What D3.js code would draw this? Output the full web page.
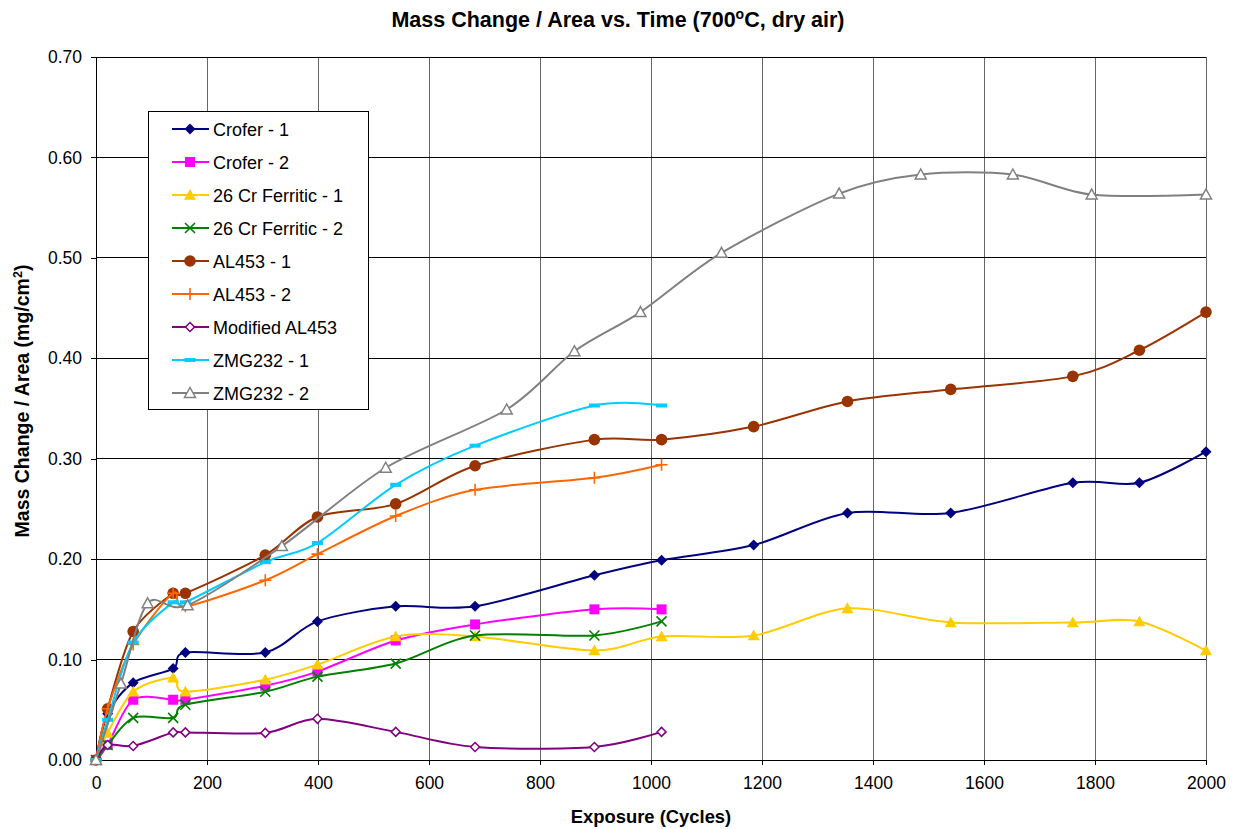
<!DOCTYPE html>
<html>
<head>
<meta charset="utf-8">
<script src="https://cdn.jsdelivr.net/npm/d3@7"></script>
<style>
  html, body { margin: 0; padding: 0; background: #fff; }
  svg { display: block; font-family: "Liberation Sans", Arial, sans-serif; }
</style>
</head>
<body>
<svg id="chart" width="1236" height="829"></svg>
<script>
// ---- Data ----
const xShort = [0, 21, 67, 139, 161, 305, 399, 540, 683, 898, 1019];
const xLong  = [0, 21, 67, 139, 161, 305, 399, 540, 683, 898, 1019, 1185, 1354, 1540, 1760, 1880, 2000];
const xZmg2  = [0, 45, 93, 165, 335, 522, 740, 862, 981, 1127, 1339, 1486, 1652, 1794, 2000];

const crofer1   = [0, 0.046, 0.077, 0.091, 0.107, 0.107, 0.138, 0.153, 0.153, 0.184, 0.199, 0.214, 0.246, 0.246, 0.276, 0.276, 0.307];
const crofer2   = [0, 0.015, 0.060, 0.060, 0.060, 0.074, 0.088, 0.119, 0.135, 0.150, 0.150];
const cr26_1    = [0, 0.027, 0.068, 0.082, 0.068, 0.080, 0.095, 0.123, 0.123, 0.109, 0.123, 0.124, 0.151, 0.137, 0.137, 0.138, 0.109];
const cr26_2    = [0, 0.015, 0.042, 0.042, 0.055, 0.068, 0.083, 0.096, 0.124, 0.124, 0.138];
const al453_1   = [0, 0.051, 0.128, 0.166, 0.166, 0.204, 0.242, 0.255, 0.293, 0.319, 0.319, 0.332, 0.357, 0.369, 0.382, 0.408, 0.446];
const al453_2   = [0, 0.051, 0.115, 0.166, 0.153, 0.179, 0.205, 0.243, 0.269, 0.281, 0.294];
const modAl453  = [0, 0.015, 0.014, 0.0275, 0.0275, 0.027, 0.041, 0.028, 0.013, 0.013, 0.028];
const zmg232_1  = [0, 0.040, 0.117, 0.157, 0.157, 0.197, 0.216, 0.274, 0.313, 0.353, 0.353];
const zmg232_2  = [0, 0.076, 0.156, 0.154, 0.213, 0.291, 0.349, 0.407, 0.446, 0.505, 0.564, 0.583, 0.583, 0.563, 0.563];

const seriesNames = ["Crofer - 1", "Crofer - 2", "26 Cr Ferritic - 1", "26 Cr Ferritic - 2",
                     "AL453 - 1", "AL453 - 2", "Modified AL453", "ZMG232 - 1", "ZMG232 - 2"];
const xTicks = [0, 200, 400, 600, 800, 1000, 1200, 1400, 1600, 1800, 2000];
const yTicks = [0, 0.1, 0.2, 0.3, 0.4, 0.5, 0.6, 0.7];

const series = [
  { name: seriesNames[0], xs: xLong,  ys: crofer1,  color: "#000080", marker: "diamond" },
  { name: seriesNames[1], xs: xShort, ys: crofer2,  color: "#FF00FF", marker: "square" },
  { name: seriesNames[2], xs: xLong,  ys: cr26_1,   color: "#FFCC00", marker: "triangle" },
  { name: seriesNames[3], xs: xShort, ys: cr26_2,   color: "#008000", marker: "x" },
  { name: seriesNames[4], xs: xLong,  ys: al453_1,  color: "#993300", marker: "circle" },
  { name: seriesNames[5], xs: xShort, ys: al453_2,  color: "#FF6600", marker: "plus" },
  { name: seriesNames[6], xs: xShort, ys: modAl453, color: "#800080", marker: "hdiamond" },
  { name: seriesNames[7], xs: xShort, ys: zmg232_1, color: "#00CCFF", marker: "dash" },
  { name: seriesNames[8], xs: xZmg2,  ys: zmg232_2, color: "#808080", marker: "htriangle" }
];

// ---- Layout ----
const svg = d3.select("#chart");
const L = 96, R = 1206, T = 57, B = 760;
const x = d3.scaleLinear().domain([0, 2000]).range([L, R]);
const y = d3.scaleLinear().domain([0, 0.7]).range([B, T]);

// gridlines
svg.append("g").selectAll("line").data(xTicks.slice(1)).join("line")
  .attr("x1", d => x(d)).attr("x2", d => x(d)).attr("y1", T).attr("y2", B)
  .attr("stroke", "#666").attr("stroke-width", 1).attr("shape-rendering", "crispEdges");
svg.append("g").selectAll("line").data(yTicks.slice(1)).join("line")
  .attr("x1", L).attr("x2", R).attr("y1", d => y(d)).attr("y2", d => y(d))
  .attr("stroke", "#000").attr("stroke-width", 1).attr("shape-rendering", "crispEdges");

// axes
const xAxis = d3.axisBottom(x).tickValues(xTicks).tickSize(5).tickSizeOuter(0).tickPadding(12)
  .tickFormat(d3.format("d"));
const gx = svg.append("g").attr("transform", `translate(0,${B})`).call(xAxis);
const yAxis = d3.axisLeft(y).tickValues(yTicks).tickSize(5).tickSizeOuter(0).tickPadding(9)
  .tickFormat(d3.format(".2f"));
const gy = svg.append("g").attr("transform", `translate(${L},0)`).call(yAxis);
[gx, gy].forEach(g => {
  g.selectAll("path.domain").attr("stroke", "#000").attr("stroke-width", 1.3).attr("shape-rendering", "crispEdges");
  g.selectAll(".tick line").attr("stroke", "#000").attr("shape-rendering", "crispEdges");
  g.selectAll(".tick text").attr("fill", "#000").style("font-size", "17.5px")
    .style("font-family", "'Liberation Sans', Arial, sans-serif");
});

// ---- Markers ----
function drawMarker(g, type, color, cx, cy, scale) {
  const s = scale || 1;
  switch (type) {
    case "diamond": {
      const r = 5.5 * s;
      g.append("path").attr("d", `M${cx},${cy - r}L${cx + r},${cy}L${cx},${cy + r}L${cx - r},${cy}Z`).attr("fill", color);
      break; }
    case "square": {
      const r = 5 * s;
      g.append("rect").attr("x", cx - r).attr("y", cy - r).attr("width", 2 * r).attr("height", 2 * r).attr("fill", color);
      break; }
    case "triangle": {
      const r = 6 * s;
      g.append("path").attr("d", `M${cx},${cy - r}L${cx + r},${cy + r * 0.8}L${cx - r},${cy + r * 0.8}Z`).attr("fill", color);
      break; }
    case "x": {
      const r = 5 * s;
      g.append("path").attr("d", `M${cx - r},${cy - r}L${cx + r},${cy + r}M${cx - r},${cy + r}L${cx + r},${cy - r}`)
        .attr("stroke", color).attr("stroke-width", 1.6).attr("fill", "none");
      break; }
    case "circle":
      g.append("circle").attr("cx", cx).attr("cy", cy).attr("r", 5.8 * s).attr("fill", color);
      break;
    case "plus": {
      const r = 6 * s;
      g.append("path").attr("d", `M${cx - r},${cy}L${cx + r},${cy}M${cx},${cy - r}L${cx},${cy + r}`)
        .attr("stroke", color).attr("stroke-width", 1.6).attr("fill", "none");
      break; }
    case "hdiamond": {
      const r = 4.5 * s;
      g.append("path").attr("d", `M${cx},${cy - r}L${cx + r},${cy}L${cx},${cy + r}L${cx - r},${cy}Z`)
        .attr("fill", "#fff").attr("stroke", color).attr("stroke-width", 1.5);
      break; }
    case "dash":
      g.append("rect").attr("x", cx - 5.5 * s).attr("y", cy - 2).attr("width", 11 * s).attr("height", 4).attr("fill", color);
      break;
    case "htriangle": {
      const r = 5.5 * s;
      g.append("path").attr("d", `M${cx},${cy - r}L${cx + r},${cy + r * 0.8}L${cx - r},${cy + r * 0.8}Z`)
        .attr("fill", "#fff").attr("stroke", color).attr("stroke-width", 1.5);
      break; }
  }
}

// ---- Lines ----
const line = d3.line().x(d => x(d[0])).y(d => y(d[1])).curve(d3.curveCardinal.tension(0.1));
series.forEach(s => {
  const pts = s.xs.map((v, i) => [v, s.ys[i]]);
  const g = svg.append("g");
  g.append("path").datum(pts).attr("d", line).attr("fill", "none")
    .attr("stroke", s.color).attr("stroke-width", 2);
  pts.forEach(p => drawMarker(g, s.marker, s.color, x(p[0]), y(p[1])));
});

// ---- Legend ----
const lg = svg.append("g");
lg.append("rect").attr("x", 148.5).attr("y", 111.5).attr("width", 220).attr("height", 298)
  .attr("fill", "#fff").attr("stroke", "#000").attr("stroke-width", 1);
series.forEach((s, i) => {
  const cy = 129 + i * 33;
  lg.append("line").attr("x1", 172).attr("x2", 209).attr("y1", cy).attr("y2", cy)
    .attr("stroke", s.color).attr("stroke-width", 2);
  drawMarker(lg, s.marker, s.color, 190, cy);
  lg.append("text").attr("x", 213).attr("y", cy + 6.5).text(s.name)
    .style("font-size", "18px").attr("fill", "#000");
});

// ---- Titles ----
const title = svg.append("text").attr("x", 618).attr("y", 27).attr("text-anchor", "middle")
  .style("font-size", "21.5px").style("font-weight", "bold");
title.append("tspan").text("Mass Change / Area vs. Time (700");
title.append("tspan").attr("dy", -8).style("font-size", "14px").text("o");
title.append("tspan").attr("dy", 8).text("C, dry air)");

svg.append("text").attr("x", 651).attr("y", 823).attr("text-anchor", "middle")
  .style("font-size", "18.4px").style("font-weight", "bold").text("Exposure (Cycles)");

const yt = svg.append("text").attr("transform", "translate(29,401) rotate(-90)").attr("text-anchor", "middle")
  .style("font-size", "19.5px").style("font-weight", "bold");
yt.append("tspan").text("Mass Change / Area (mg/cm");
yt.append("tspan").attr("dy", -7).style("font-size", "12.5px").text("2");
yt.append("tspan").attr("dy", 7).text(")");
</script>
</body>
</html>
